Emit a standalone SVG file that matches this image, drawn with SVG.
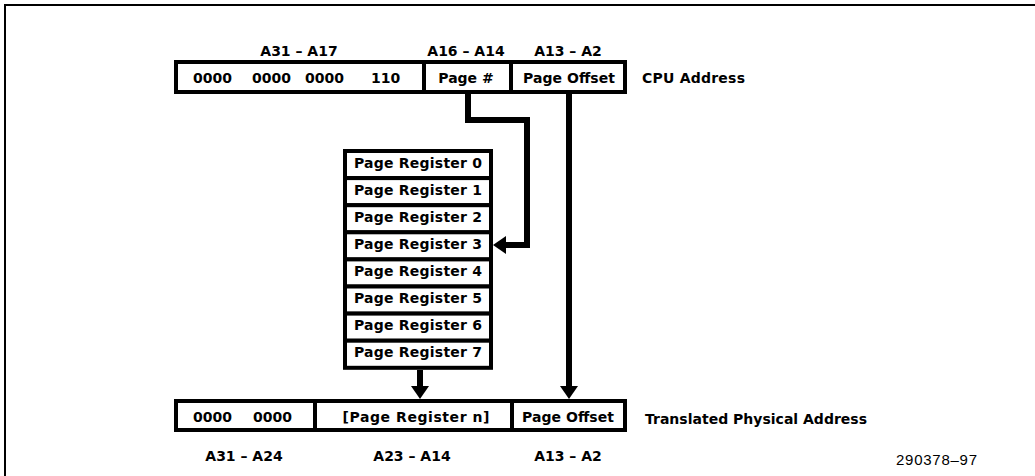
<svg xmlns="http://www.w3.org/2000/svg" width="1035" height="476" viewBox="0 0 1035 476">
<style>
  .box { fill: #fff; stroke: #000; stroke-width: 4; }
  .div { stroke: #000; stroke-width: 4; }
  .t { font-family: "DejaVu Sans", "Liberation Sans", sans-serif; font-weight: bold; font-size: 14px; fill: #000; }
  .c { text-anchor: middle; }
  .conn { fill: none; stroke: #000; stroke-width: 6; stroke-linejoin: miter; }
  .id { font-family: "Liberation Sans", Arial, sans-serif; font-size: 15px; fill: #000; }
</style>
<defs>
  <marker id="ah" markerUnits="userSpaceOnUse" markerWidth="14" markerHeight="20" refX="0" refY="10" orient="auto">
    <path d="M0,1 L13,10 L0,19 Z" fill="#000"/>
  </marker>
</defs>
<rect x="0" y="0" width="1035" height="476" fill="#fff"/>
<path d="M4,5 H1035 M5,5 V476" stroke="#000" stroke-width="2" fill="none"/>

<g id="cpu-address">
  <rect class="box" x="176" y="62" width="449" height="30"/>
  <line class="div" x1="424" y1="62" x2="424" y2="92"/>
  <line class="div" x1="511" y1="62" x2="511" y2="92"/>
  <text class="t" y="83"><tspan x="193">0000</tspan><tspan x="252">0000</tspan><tspan x="305">0000</tspan><tspan x="371">110</tspan></text>
  <text class="t c" x="466" y="83">Page #</text>
  <text class="t c" x="569" y="83" textLength="92">Page Offset</text>
  <text class="t c" x="299" y="56">A31 – A17</text>
  <text class="t c" x="466" y="56">A16 – A14</text>
  <text class="t c" x="568" y="56">A13 – A2</text>
  <text class="t" x="642" y="83" textLength="103">CPU Address</text>
</g>

<g id="page-registers">
  <g id="reg0"><rect class="box" x="345" y="151" width="146" height="27.1"/><text class="t c" x="418" y="167.5" textLength="128">Page Register 0</text></g>
  <g id="reg1"><rect class="box" x="345" y="178.1" width="146" height="27.1"/><text class="t c" x="418" y="194.6" textLength="128">Page Register 1</text></g>
  <g id="reg2"><rect class="box" x="345" y="205.2" width="146" height="27.1"/><text class="t c" x="418" y="221.7" textLength="128">Page Register 2</text></g>
  <g id="reg3"><rect class="box" x="345" y="232.3" width="146" height="27.1"/><text class="t c" x="418" y="248.8" textLength="128">Page Register 3</text></g>
  <g id="reg4"><rect class="box" x="345" y="259.4" width="146" height="27.1"/><text class="t c" x="418" y="275.9" textLength="128">Page Register 4</text></g>
  <g id="reg5"><rect class="box" x="345" y="286.5" width="146" height="27.1"/><text class="t c" x="418" y="303" textLength="128">Page Register 5</text></g>
  <g id="reg6"><rect class="box" x="345" y="313.6" width="146" height="27.1"/><text class="t c" x="418" y="330.1" textLength="128">Page Register 6</text></g>
  <g id="reg7"><rect class="box" x="345" y="340.7" width="146" height="27.1"/><text class="t c" x="418" y="357.2" textLength="128">Page Register 7</text></g>
</g>

<g id="physical-address">
  <rect class="box" x="176" y="401" width="449" height="29"/>
  <line class="div" x1="315" y1="401" x2="315" y2="430"/>
  <line class="div" x1="512" y1="401" x2="512" y2="430"/>
  <text class="t" y="422"><tspan x="193">0000</tspan><tspan x="253">0000</tspan></text>
  <text class="t c" x="416" y="422" textLength="147">[Page Register n]</text>
  <text class="t c" x="568" y="422" textLength="92">Page Offset</text>
  <text class="t c" x="244" y="461">A31 – A24</text>
  <text class="t c" x="412" y="461">A23 – A14</text>
  <text class="t c" x="568" y="461">A13 – A2</text>
  <text class="t" x="645" y="424" textLength="222">Translated Physical Address</text>
</g>

<g id="connectors">
  <path class="conn" d="M468,94 V120 H527 V245 H506" marker-end="url(#ah)"/>
  <path class="conn" d="M569,94 V386" marker-end="url(#ah)"/>
  <path class="conn" d="M420,370 V386" marker-end="url(#ah)"/>
</g>

<text class="id" x="896" y="465" textLength="81">290378–97</text>
</svg>
